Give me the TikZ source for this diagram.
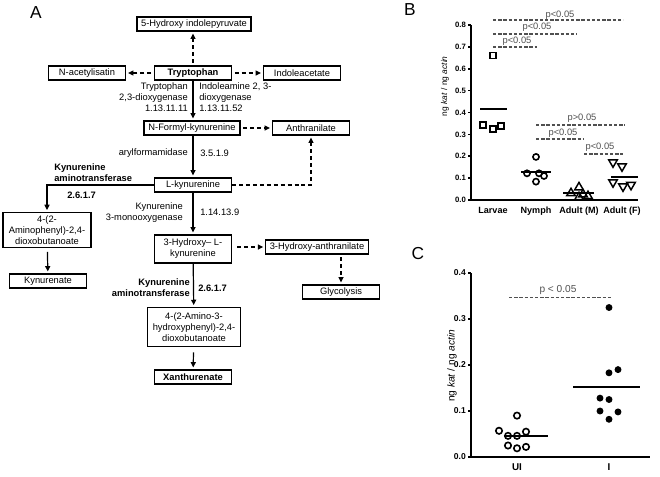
\documentclass[tikz,border=0pt]{standalone}
\usepackage{fontspec}
\setmainfont{Liberation Sans}
\definecolor{sigray}{RGB}{80,80,80}
\usetikzlibrary{arrows.meta,shapes.geometric}

\begin{document}
\begin{tikzpicture}[
  x=0.75pt, y=-0.75pt,
  every node/.style={font=\fontsize{7}{8.2}\selectfont},
  mbox/.style={draw,line width=0.9pt,minimum width=57.75pt,minimum height=10.5pt,
               inner xsep=3pt,inner ysep=1pt,align=center},
  enz/.style={inner sep=0pt},
  arr/.style={-{Triangle[length=4pt,width=3.8pt]},line width=0.9pt,shorten >=1.5pt},
  darr/.style={arr,dash pattern=on 3pt off 2.2pt,shorten <=2pt},
  panel/.style={font=\fontsize{13}{15}\selectfont},
  axis/.style={line width=1.3pt},
  tlbl/.style={font=\fontsize{5.8}{6}\selectfont\bfseries,inner sep=1pt,anchor=east},
  clbl/.style={font=\fontsize{6.8}{7}\selectfont\bfseries,inner sep=0pt,anchor=north},
  sig/.style={sigray,line width=0.9pt,dash pattern=on 2.6pt off 1.3pt},
  plbl/.style={text=sigray,inner sep=0pt},
  mean/.style={line width=1.5pt},
  msq/.style={draw,line width=1.2pt,rectangle,minimum size=4.5pt,inner sep=0pt},
  mcirc/.style={draw,line width=1.2pt,circle,minimum size=4.6pt,inner sep=0pt},
  mtri/.style={draw,line width=1.1pt,regular polygon,regular polygon sides=3,
               minimum size=7.4pt,inner sep=0pt},
  mtrd/.style={mtri,shape border rotate=180},
  mdot/.style={fill,circle,minimum size=5.2pt,inner sep=0pt},
]
  \useasboundingbox (0,0) rectangle (660,476);

  % Panel A: pathway
  \node[panel] (lA) at (36,13) {A};

  \node[mbox] (hip) at (194,24) {5-Hydroxy indolepyruvate};
  \node[mbox,font=\fontsize{7}{8.2}\selectfont\bfseries] (trp) at (193,73) {Tryptophan};
  \node[mbox] (nac) at (87,73) {N-acetylisatin};
  \node[mbox] (iaa) at (302,73) {Indoleacetate};
  \node[mbox,minimum width=72pt] (nfk) at (192,128) {N-Formyl-kynurenine};
  \node[mbox] (anth) at (311,128) {Anthranilate};
  \node[mbox] (lkyn) at (193,185) {L-kynurenine};
  \node[mbox,minimum width=66pt,minimum height=26pt] (amino) at (47,230)
    {4-(2-\\Aminophenyl)-2,4-\\dioxobutanoate};
  \node[mbox] (kyna) at (48,281) {Kynurenate};
  \node[mbox,minimum height=21pt] (hlkyn) at (193,249) {3-Hydroxy-- L-\\kynurenine};
  \node[mbox] (haa) at (317,247) {3-Hydroxy-anthranilate};
  \node[mbox] (glyc) at (341,292) {Glycolysis};
  \node[mbox,minimum width=70pt,minimum height=29pt] (ahp) at (194,327)
    {4-(2-Amino-3-\\hydroxyphenyl)-2,4-\\dioxobutanoate};
  \node[mbox,font=\fontsize{7}{8.2}\selectfont\bfseries] (xan) at (193,377) {Xanthurenate};

  % enzymes
  \node[enz,align=right,anchor=east] (tdo) at (188,97.5) {Tryptophan\\2,3-dioxygenase\\1.13.11.11};
  \node[enz,align=left,anchor=west] (ido) at (199,97.5) {Indoleamine 2, 3-\\dioxygenase\\1.13.11.52};
  \node[enz,anchor=east] (afm) at (188,153) {arylformamidase};
  \node[enz,anchor=west] (afmec) at (200,153) {3.5.1.9};
  \node[enz,align=left,anchor=west,font=\fontsize{7}{8.2}\selectfont\bfseries] (kat1) at (54,173)
    {Kynurenine\\aminotransferase};
  \node[enz,anchor=west,font=\fontsize{7}{8.2}\selectfont\bfseries] (kat1ec) at (67,195) {2.6.1.7};
  \node[enz,align=right,anchor=east] (kmo) at (183,213) {Kynurenine\\3-monooxygenase};
  \node[enz,anchor=west] (kmoec) at (200,212) {1.14.13.9};
  \node[enz,align=right,anchor=east,font=\fontsize{7}{8.2}\selectfont\bfseries] (kat2) at (190,288)
    {Kynurenine\\aminotransferase};
  \node[enz,anchor=west,font=\fontsize{7}{8.2}\selectfont\bfseries] (kat2ec) at (198,288) {2.6.1.7};

  % Arrows
  \draw[darr] (trp.north) -- (trp.north |- hip.south);
  \draw[darr] (trp) -- (nac);
  \draw[darr] (trp) -- (iaa);
  \draw[arr] (trp.south) -- (trp.south |- nfk.north);
  \draw[darr] (nfk) -- (anth);
  \draw[arr] (lkyn.north |- nfk.south) -- (lkyn.north);
  \draw[arr] (lkyn.west) -| (amino.north);
  \draw[darr,shorten <=0pt] (lkyn.east) -| (anth.south);
  \draw[arr] (lkyn) -- (hlkyn);
  \draw[arr,shorten <=3pt] (amino) -- (kyna);
  \draw[darr,shorten <=4pt] (hlkyn.east |- haa.west) -- (haa.west);
  \draw[darr] (glyc.north |- haa.south) -- (glyc.north);
  \draw[arr] (hlkyn) -- (ahp);
  \draw[arr,shorten <=4pt] (ahp) -- (xan);

  % Panel B: developmental stages
  \node[panel] (lB) at (410,10) {B};
  \begin{scope}[shift={(471,200)},y=164.0625pt]
    \draw[axis] (0,0.8) -- (0,0) -- (167,0);
    \foreach \t in {0,...,8}
      \draw[axis] (0,\t/10) -- (-3,\t/10) node[tlbl] (bt\t) {0.\t};
    \foreach \x/\lab [count=\i] in {22/Larvae,65/Nymph,108/Adult (M),151/Adult (F)}
      \node[clbl] (bc\i) at (\x,-0.03) {\lab};
    \node[rotate=90,font=\fontsize{6.3}{7}\selectfont] (byl) at (-26,0.52)
      {ng \textit{kat} / ng \textit{actin}};

    % points
    \foreach \x/\v [count=\i] in {22/0.66,12/0.343,22/0.324,30/0.337}
      \node[msq] (lv\i) at (\x,\v) {};
    \foreach \x/\v [count=\i] in {65/0.197,56/0.122,68/0.122,65/0.084,73/0.11}
      \node[mcirc] (ny\i) at (\x,\v) {};
    \foreach \x/\v [count=\i] in {108/0.058,100/0.031,112/0.026,117/0.018,108/0.013}
      \node[mtri] (am\i) at (\x,\v) {};
    \foreach \x/\v [count=\i] in {142/0.172,151/0.154,142/0.081,152/0.062,160/0.069}
      \node[mtrd] (af\i) at (\x,\v) {};

    % means
    \draw[mean] (9,0.418) -- (36,0.418);
    \draw[mean] (50,0.128) -- (80,0.128);
    \draw[mean] (92,0.03) -- (123,0.03);
    \draw[mean] (140,0.106) -- (167,0.106);

    % significance
    \draw[sig] (22,0.823) -- (152,0.823);
    \node[plbl] (bp1) at (89,0.846) {p<0.05};
    \draw[sig] (22,0.759) -- (106,0.759);
    \node[plbl] (bp2) at (66,0.791) {p<0.05};
    \draw[sig] (22,0.699) -- (66,0.699);
    \node[plbl] (bp3) at (46,0.727) {p<0.05};
    \draw[sig] (65,0.343) -- (154,0.343);
    \node[plbl] (bp4) at (111,0.375) {p>0.05};
    \draw[sig] (65,0.279) -- (113,0.279);
    \node[plbl] (bp5) at (92,0.306) {p<0.05};
    \draw[sig] (113,0.21) -- (152,0.21);
    \node[plbl] (bp6) at (129,0.242) {p<0.05};
  \end{scope}

  % Panel C: infection
  \node[panel] (lC) at (418,254) {C};
  \begin{scope}[shift={(471,457)},y=345pt]
    \draw[axis] (0,0.4) -- (0,0) -- (179,0);
    \foreach \t in {0,...,4}
      \draw[axis] (0,\t/10) -- (-3,\t/10) node[tlbl,font=\fontsize{6.4}{7}\selectfont\bfseries] (ct\t) {0.\t};
    \foreach \x/\lab [count=\i] in {46/UI,138/I}
      \node[clbl,font=\fontsize{7.4}{8}\selectfont\bfseries] (cc\i) at (\x,-0.015) {\lab};
    \node[rotate=90,font=\fontsize{7.6}{8}\selectfont] (cyl) at (-19,0.198)
      {ng \textit{kat} / ng \textit{actin}};

    % points
    \foreach \x/\v [count=\i] in {46/0.09,28/0.057,37/0.046,46/0.046,55/0.055,37/0.025,46/0.019,55/0.022}
      \node[mcirc,minimum size=4.8pt] (ui\i) at (\x,\v) {};
    \foreach \x/\v [count=\i] in {138/0.325,138/0.183,147/0.19,129/0.128,138/0.125,129/0.1,147/0.098,138/0.082}
      \node[mdot] (in\i) at (\x,\v) {};

    % means
    \draw[mean] (33,0.046) -- (77,0.046);
    \draw[mean] (102,0.153) -- (169,0.153);

    % significance
    \draw[sig] (38,0.346) -- (140,0.346);
    \node[plbl,font=\fontsize{7.6}{8}\selectfont] (cp1) at (87,0.362) {p < 0.05};
  \end{scope}
\end{tikzpicture}
\end{document}
